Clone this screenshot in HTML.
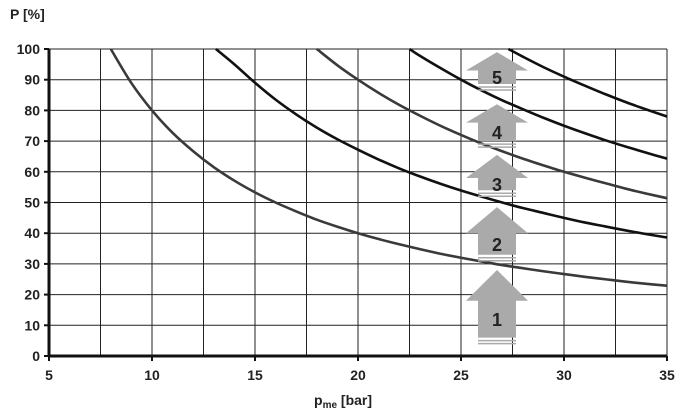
<!DOCTYPE html>
<html><head><meta charset="utf-8"><style>
body{margin:0;background:#fff;}
svg{display:block;font-family:"Liberation Sans",Arial,sans-serif;}
</style></head><body>
<svg id="chart" width="691" height="420">
<g id="grid"></g>
<g id="curves"></g>
<g id="arrows"></g>
<g id="axes"></g>
<text x="10" y="19" font-size="14" font-weight="bold" fill="#222">P [%]</text>
<text x="314" y="405" font-size="14" font-weight="bold" fill="#222">p<tspan font-size="10" dy="3">me</tspan><tspan dy="-3"> [bar]</tspan></text>
</svg>
<script>
const xTicks=[5,10,15,20,25,30,35];
const xGrid=[7.5,10,12.5,15,17.5,20,22.5,25,27.5,30,32.5,35];
const yTicks=[0,10,20,30,40,50,60,70,80,90,100];
const curveX=[8,9,10,11,12,13,14,15,16,17,18,19,20,21,22,23,24,25,26,27,28,29,30,31,32,33,34,35];
const curve1=[100,88.9,80,72.7,66.7,61.5,57.1,53.3,50,47.1,44.4,42.1,40,38.1,36.4,34.8,33.3,32,30.8,29.6,28.6,27.6,26.7,25.8,25,24.2,23.5,22.9];
const curve2=[null,null,null,null,null,null,95,89,83.5,78.7,74.4,70.6,67.2,64,61.1,58.5,56.1,53.9,51.9,50,48.2,46.6,45,43.5,42.2,40.9,39.7,38.6];
const curve3=[null,null,null,null,null,null,null,null,null,null,100,94.7,90,85.7,81.8,78.3,75,72,69.2,66.7,64.3,62.1,60,58.1,56.3,54.5,52.9,51.4];
const curve4=[null,null,null,null,null,null,null,null,null,null,null,null,null,null,null,97.8,93.8,90,86.5,83.3,80.4,77.6,75,72.6,70.3,68.2,66.2,64.3];
const curve5=[null,null,null,null,null,null,null,null,null,null,null,null,null,null,null,null,null,null,null,null,97.5,94.1,91,88.1,85.3,82.7,80.3,78];
const startX=[8,13.1,18,22.5,27.3];
const arrowLabels=["1","2","3","4","5"];
const arrowTip=[28,48.5,65.5,82,99];
const arrowHeadBase=[18,40,58,76,93];
const arrowBottom=[6,33,54,70,88.6];
const NS="http://www.w3.org/2000/svg";
const X=v=>49+(v-5)*20.6, Y=v=>356-v*3.07;
function mk(t,a,p){const e=document.createElementNS(NS,t);for(const k in a)e.setAttribute(k,a[k]);p.appendChild(e);return e;}
const grid=document.getElementById('grid'),axes=document.getElementById('axes'),cv=document.getElementById('curves'),ar=document.getElementById('arrows');
xGrid.forEach(v=>{const l=mk('line',{x1:X(v),x2:X(v),y1:Y(100),y2:Y(0),stroke:'#222','stroke-width':1},grid);

});
yTicks.forEach(v=>{if(v===0)return;const l=mk('line',{x1:X(5),x2:X(35),y1:Y(v),y2:Y(v),stroke:'#222','stroke-width':1},grid);

});
const series=[curve1,curve2,curve3,curve4,curve5];
const colors=['#3a3a3a','#111','#3a3a3a','#111','#111'];
series.forEach((s,i)=>{const pts=[[X(startX[i]),Y(100)]];
curveX.forEach((x,j)=>{if(s[j]!==null&&x>startX[i])pts.push([X(x),Y(s[j])]);});
let d='M'+pts[0][0]+','+pts[0][1];
for(let k=0;k<pts.length-1;k++){const p0=pts[Math.max(k-1,0)],p1=pts[k],p2=pts[k+1],p3=pts[Math.min(k+2,pts.length-1)];
d+=` C${p1[0]+(p2[0]-p0[0])/6},${p1[1]+(p2[1]-p0[1])/6} ${p2[0]-(p3[0]-p1[0])/6},${p2[1]-(p3[1]-p1[1])/6} ${p2[0]},${p2[1]}`;}
const p=mk('path',{d:d,fill:'none',stroke:colors[i],'stroke-width':2.6},cv);

});
arrowLabels.forEach((lab,i)=>{const cx=497,tip=Y(arrowTip[i]),hb=Y(arrowHeadBase[i]),bt=Y(arrowBottom[i]);
const g=mk('g',{},ar);


mk('path',{d:`M${cx},${tip} L${cx+31},${hb} L${cx+19},${hb} L${cx+19},${bt} L${cx-19},${bt} L${cx-19},${hb} L${cx-31},${hb} Z`,fill:'#aaa'},g);
for(let k=1;k<=2;k++)mk('line',{x1:cx-19,x2:cx+19,y1:bt+k*3,y2:bt+k*3,stroke:'#aaa','stroke-width':1.5},g);
const t=mk('text',{x:cx,y:(Math.min(hb,bt)+Math.max(hb,bt))/2+7,'text-anchor':'middle','font-size':18,'font-weight':'bold',fill:'#222'},g);t.textContent=lab;});
let a=mk('line',{x1:X(5),x2:X(5),y1:Y(100),y2:Y(0)+1,stroke:'#111','stroke-width':3},axes);

a=mk('line',{x1:X(5),x2:X(35),y1:Y(0),y2:Y(0),stroke:'#111','stroke-width':3},axes);

yTicks.forEach(v=>{mk('line',{x1:X(5)-5,x2:X(5),y1:Y(v),y2:Y(v),stroke:'#111','stroke-width':2},axes);
const t=mk('text',{x:X(5)-9,y:Y(v)+5,'text-anchor':'end','font-size':14,'font-weight':'bold',fill:'#222'},axes);t.textContent=v;

});
xTicks.forEach(v=>{mk('line',{x1:X(v),x2:X(v),y1:Y(0),y2:Y(0)+5,stroke:'#111','stroke-width':2},axes);
const t=mk('text',{x:X(v),y:Y(0)+24,'text-anchor':'middle','font-size':14,'font-weight':'bold',fill:'#222'},axes);t.textContent=v;

});
</script>
</body></html>
